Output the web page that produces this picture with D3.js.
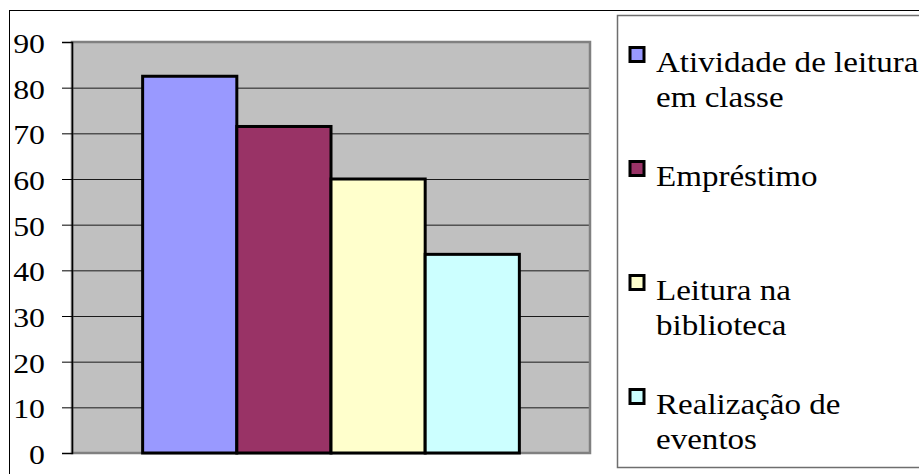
<!DOCTYPE html>
<html>
<head>
<meta charset="utf-8">
<script src="https://cdn.jsdelivr.net/npm/d3@7"></script>
<style>
  body { margin: 0; background: #fff; }
  svg { display: block; }
</style>
</head>
<body>
<div id="chart"></div>
<script>
// data
const seriesNames = ['Atividade de leitura em classe', 'Empréstimo', 'Leitura na biblioteca', 'Realização de eventos']
const seriesValues = [82.5, 71.5, 60, 43.5]
const seriesColors = ['#9999ff', '#993366', '#ffffcc', '#ccffff']
const legendLines = [['Atividade de leitura', 'em classe'], ['Empréstimo'], ['Leitura na', 'biblioteca'], ['Realização de', 'eventos']]
const yTicks = [0, 10, 20, 30, 40, 50, 60, 70, 80, 90]

const serif = '"Liberation Serif", "Times New Roman", Times, serif'

const W = 919, H = 474
const plot = { left: 72, top: 42, right: 590, bottom: 453 }
const width = plot.right - plot.left
const height = plot.bottom - plot.top

const svg = d3.select('#chart').append('svg')
  .attr('width', W)
  .attr('height', H)

// outer chart frame (runs off the right and bottom)
svg.append('rect')
  .attr('x', 9.5).attr('y', 10.5)
  .attr('width', W + 20).attr('height', H + 20)
  .attr('fill', '#fff').attr('stroke', '#000').attr('stroke-width', 1)

const g = svg.append('g').attr('transform', `translate(${plot.left},${plot.top})`)

// scales
const y = d3.scaleLinear().domain([0, 90]).range([height, 0])
const x = d3.scaleBand().domain(seriesNames).range([0, width]).paddingInner(0).paddingOuter(0.75)

// plot area background
g.append('rect')
  .attr('width', width).attr('height', height)
  .attr('fill', '#c0c0c0')

// gridlines
g.append('g')
  .call(d3.axisLeft(y).tickValues(yTicks).tickSize(-width).tickFormat(''))
  .call(a => a.select('.domain').remove())
  .selectAll('line').attr('stroke', '#1a1a1a').attr('stroke-width', 1)

// plot area border
g.append('rect')
  .attr('width', width).attr('height', height)
  .attr('fill', 'none').attr('stroke', '#808080').attr('stroke-width', 2.5)

// bars
g.selectAll('rect.bar')
  .data(seriesNames.map((name, i) => ({ name, value: seriesValues[i], color: seriesColors[i] })))
  .join('rect')
  .attr('class', 'bar')
  .attr('x', d => x(d.name))
  .attr('y', d => y(d.value))
  .attr('width', x.bandwidth())
  .attr('height', d => height - y(d.value))
  .attr('fill', d => d.color)
  .attr('stroke', '#000')
  .attr('stroke-width', 3)

// y axis
const yAxis = g.append('g')
  .call(d3.axisLeft(y).tickValues(yTicks).tickSize(10).tickFormat(d3.format('d')))
  .attr('font-family', serif)
  .attr('font-size', 26.5)
yAxis.select('.domain').attr('stroke', '#000').attr('stroke-width', 1.5)
yAxis.selectAll('.tick line').attr('stroke', '#000').attr('stroke-width', 1)
yAxis.selectAll('.tick text')
  .attr('x', null)
  .attr('dy', '0.34em')
  .attr('transform', 'translate(-27,1.5) scale(1.2,1)')
  .attr('fill', '#000')

// legend box
svg.append('rect')
  .attr('x', 617.5).attr('y', 15.5)
  .attr('width', W).attr('height', 452)
  .attr('fill', '#fff').attr('stroke', '#6e6e6e').attr('stroke-width', 1.5)

const legendTop = 72
const legendStep = 114
const lineHeight = 35

const entries = svg.append('g')
  .attr('font-family', serif)
  .attr('font-size', 28.5)
  .selectAll('g')
  .data(seriesNames)
  .join('g')
  .attr('transform', (d, i) => `translate(0,${legendTop + i * legendStep})`)

entries.append('rect')
  .attr('x', 630).attr('y', -24.5)
  .attr('width', 14).attr('height', 14)
  .attr('fill', (d, i) => seriesColors[i])
  .attr('stroke', '#000').attr('stroke-width', 3)

entries.each(function (d, i) {
  d3.select(this).selectAll('text')
    .data(legendLines[i])
    .join('text')
    .attr('transform', (line, j) => `translate(656,${j * lineHeight}) scale(1.16,1)`)
    .attr('fill', '#000')
    .text(line => line)
})
</script>
</body>
</html>
